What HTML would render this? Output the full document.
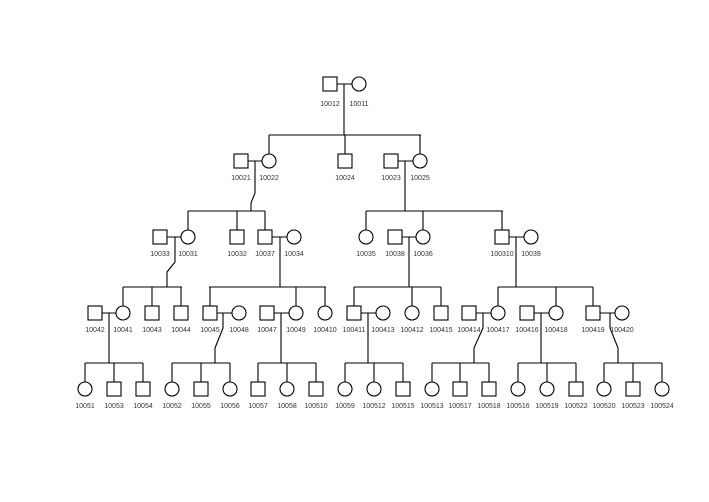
<!DOCTYPE html>
<html><head><meta charset="utf-8"><style>
html,body{margin:0;padding:0;background:#fff;}
svg{display:block;}
text{font-family:"Liberation Sans",sans-serif;font-size:7px;fill:#333;text-anchor:middle;}
</style></head><body>
<svg width="709" height="502" viewBox="0 0 709 502" xmlns="http://www.w3.org/2000/svg">
<rect width="709" height="502" fill="#fff"/>
<g fill="none" stroke="#000" stroke-width="1.1">
<rect x="323" y="77" width="14" height="14"/><circle cx="359" cy="84" r="7"/>
<path d="M337 84H352M344 84V135M269 135H421M269 135V154M345 135V154M420 135V154"/>
<rect x="234" y="154" width="14" height="14"/><circle cx="269" cy="161" r="7"/>
<rect x="338" y="154" width="14" height="14"/>
<rect x="384" y="154" width="14" height="14"/><circle cx="420" cy="161" r="7"/>
<path d="M248 161H262M255 161V193L251 203V211M188 211H265M188 211V230M237 211V230M265 211V230"/>
<path d="M398 161H413M405 161V211M366 211H503M366 211V230M423 211V230M502 211V230"/>
<rect x="153" y="230" width="14" height="14"/><circle cx="188" cy="237" r="7"/>
<rect x="230" y="230" width="14" height="14"/>
<rect x="258" y="230" width="14" height="14"/><circle cx="294" cy="237" r="7"/>
<circle cx="366" cy="237" r="7"/>
<rect x="388" y="230" width="14" height="14"/><circle cx="423" cy="237" r="7"/>
<rect x="495" y="230" width="14" height="14"/><circle cx="531" cy="237" r="7"/>
<path d="M167 237H181M175 237V262L167 272V287M123 287H182M123 287V306M152 287V306M181 287V306"/>
<path d="M272 237H287M280 237V287M209 287H326M210 287V306M296 287V306M325 287V306"/>
<path d="M402 237H416M409 237V287M354 287H441M354 287V306M412 287V306M441 287V306"/>
<path d="M509 237H524M516 237V287M498 287H593M498 287V306M556 287V306M593 287V306"/>
<rect x="88" y="306" width="14" height="14"/><circle cx="123" cy="313" r="7"/>
<rect x="145" y="306" width="14" height="14"/>
<rect x="174" y="306" width="14" height="14"/>
<rect x="203" y="306" width="14" height="14"/><circle cx="239" cy="313" r="7"/>
<rect x="260" y="306" width="14" height="14"/><circle cx="296" cy="313" r="7"/>
<circle cx="325" cy="313" r="7"/>
<rect x="347" y="306" width="14" height="14"/><circle cx="383" cy="313" r="7"/>
<circle cx="412" cy="313" r="7"/>
<rect x="434" y="306" width="14" height="14"/>
<rect x="462" y="306" width="14" height="14"/><circle cx="498" cy="313" r="7"/>
<rect x="520" y="306" width="14" height="14"/><circle cx="556" cy="313" r="7"/>
<rect x="586" y="306" width="14" height="14"/><circle cx="622" cy="313" r="7"/>
<path d="M102 313H116M109 313V363M85 363H143M85 363V382M114 363V382M143 363V382"/>
<path d="M217 313H232M223 313V328L215 348V363M172 363H230M172 363V382M201 363V382M230 363V382"/>
<path d="M274 313H289M281 313V363M258 363H316M258 363V382M287 363V382M316 363V382"/>
<path d="M361 313H376M368 313V363M345 363H403M345 363V382M374 363V382M403 363V382"/>
<path d="M476 313H491M483 313V328L474 348V363M432 363H489M432 363V382M460 363V382M489 363V382"/>
<path d="M534 313H549M541 313V363M518 363H576M518 363V382M547 363V382M576 363V382"/>
<path d="M600 313H615M610 313V328L618 348V363M604 363H662M604 363V382M633 363V382M662 363V382"/>
<circle cx="85" cy="389" r="7"/><rect x="107" y="382" width="14" height="14"/><rect x="136" y="382" width="14" height="14"/>
<circle cx="172" cy="389" r="7"/><rect x="194" y="382" width="14" height="14"/><circle cx="230" cy="389" r="7"/>
<rect x="251" y="382" width="14" height="14"/><circle cx="287" cy="389" r="7"/><rect x="309" y="382" width="14" height="14"/>
<circle cx="345" cy="389" r="7"/><circle cx="374" cy="389" r="7"/><rect x="396" y="382" width="14" height="14"/>
<circle cx="432" cy="389" r="7"/><rect x="453" y="382" width="14" height="14"/><rect x="482" y="382" width="14" height="14"/>
<circle cx="518" cy="389" r="7"/><circle cx="547" cy="389" r="7"/><rect x="569" y="382" width="14" height="14"/>
<circle cx="604" cy="389" r="7"/><rect x="626" y="382" width="14" height="14"/><circle cx="662" cy="389" r="7"/>
</g>
<g>
<text x="330" y="106">10012</text><text x="359" y="106">10011</text>
<text x="241" y="180">10021</text><text x="269" y="180">10022</text><text x="345" y="180">10024</text><text x="391" y="180">10023</text><text x="420" y="180">10025</text>
<text x="160" y="256">10033</text><text x="188" y="256">10031</text><text x="237" y="256">10032</text><text x="265" y="256">10037</text><text x="294" y="256">10034</text>
<text x="366" y="256">10035</text><text x="395" y="256">10038</text><text x="423" y="256">10036</text><text x="502" y="256">100310</text><text x="531" y="256">10039</text>
<text x="95" y="332">10042</text><text x="123" y="332">10041</text><text x="152" y="332">10043</text><text x="181" y="332">10044</text><text x="210" y="332">10045</text><text x="239" y="332">10048</text><text x="267" y="332">10047</text><text x="296" y="332">10049</text><text x="325" y="332">100410</text><text x="354" y="332">100411</text><text x="383" y="332">100413</text><text x="412" y="332">100412</text><text x="441" y="332">100415</text><text x="469" y="332">100414</text><text x="498" y="332">100417</text><text x="527" y="332">100416</text><text x="556" y="332">100418</text><text x="593" y="332">100419</text><text x="622" y="332">100420</text>
<text x="85" y="408">10051</text><text x="114" y="408">10053</text><text x="143" y="408">10054</text><text x="172" y="408">10052</text><text x="201" y="408">10055</text><text x="230" y="408">10056</text><text x="258" y="408">10057</text><text x="287" y="408">10058</text><text x="316" y="408">100510</text><text x="345" y="408">10059</text><text x="374" y="408">100512</text><text x="403" y="408">100515</text><text x="432" y="408">100513</text><text x="460" y="408">100517</text><text x="489" y="408">100518</text><text x="518" y="408">100516</text><text x="547" y="408">100519</text><text x="576" y="408">100522</text><text x="604" y="408">100520</text><text x="633" y="408">100523</text><text x="662" y="408">100524</text>
</g>
</svg>
</body></html>
